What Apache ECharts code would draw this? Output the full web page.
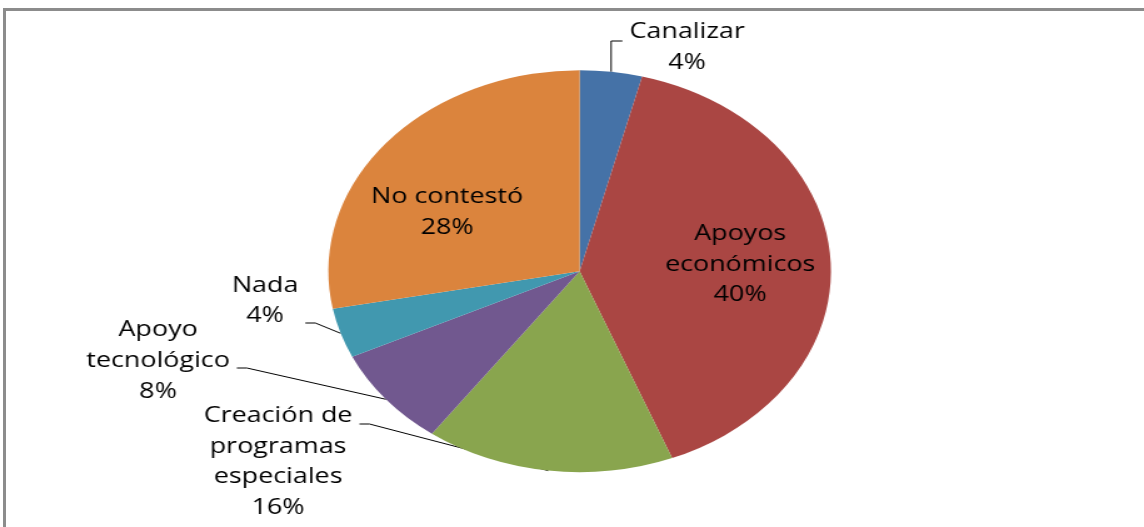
<!DOCTYPE html>
<html><head><meta charset="utf-8">
<script src="https://cdn.jsdelivr.net/npm/echarts@6/dist/echarts.min.js"></script>
<style>
html,body{margin:0;padding:0;background:#fff;width:1144px;height:527px;overflow:hidden;}
#frame{position:absolute;left:3px;top:8px;width:1300px;height:700px;border-left:3px solid #8c8c8c;border-top:3px solid #8c8c8c;box-sizing:border-box;}
#chart{position:absolute;left:0;top:0;width:915px;height:527px;transform:scaleX(1.25027);transform-origin:0 0;}
</style></head><body>
<div id="frame"></div>
<div id="chart"></div>
<script>
// Data
const categories = ['Canalizar', 'Apoyos económicos', 'Creación de programas especiales', 'Apoyo tecnológico', 'Nada', 'No contestó'];
const labelTexts = ['Canalizar', 'Apoyos\neconómicos', 'Creación de\nprogramas\nespeciales', 'Apoyo\ntecnológico', 'Nada', 'No contestó'];
const values = [4, 40, 16, 8, 4, 28];

// Presentation
const sliceColors = ['#4572A7', '#AA4643', '#89A54E', '#71588F', '#4198AF', '#DB843D'];
const insideIdx = [1, 5];
// label placement (chart px, before the horizontal stretch)
const labelPlace = {
  0: {x: 549.6, y: 47.5, lineY: 41, mode: 'up'},
  1: {x: 592, y: 264.5},
  2: {x: 222.4, y: 462, lineY: 424, mode: 'left'},
  3: {x: 126.4, y: 361, lineY: 368, mode: 'left'},
  4: {x: 212, y: 301, lineY: 323, mode: 'left'},
  5: {x: 357.6, y: 212.5}
};

const chart = echarts.init(document.getElementById('chart'), null, {renderer: 'canvas'});
const option = {
  animation: false,
  backgroundColor: 'transparent',
  series: [{
    type: 'pie',
    center: [463.6, 271.2],
    radius: 201,
    startAngle: 90,
    clockwise: true,
    avoidLabelOverlap: false,
    itemStyle: {borderWidth: 0},
    emphasis: {disabled: true},
    data: categories.map((n, i) => ({
      name: n,
      value: values[i],
      itemStyle: {color: sliceColors[i]},
      label: {position: insideIdx.includes(i) ? 'inside' : 'outside'},
      labelLine: {show: !insideIdx.includes(i)}
    })),
    label: {
      formatter: p => labelTexts[p.dataIndex] + '\n' + p.value + '%',
      fontFamily: 'Open Sans',
      fontSize: 21.5,
      lineHeight: 30.7,
      color: '#000',
      align: 'center'
    },
    labelLine: {
      show: true,
      length: 20,
      length2: 10,
      smooth: false,
      lineStyle: {color: '#000', width: 1}
    },
    labelLayout: function (params) {
      const cfg = labelPlace[params.dataIndex];
      const w = params.labelRect.width;
      const out = {x: cfg.x, y: cfg.y, align: 'center', verticalAlign: 'middle'};
      if (cfg.mode && params.labelLinePoints) {
        const p0 = params.labelLinePoints[0];
        if (cfg.mode === 'up') {
          const endX = cfg.x - w / 2 - 5.6;
          out.labelLinePoints = [[p0[0], p0[1]], [p0[0], cfg.lineY], [endX, cfg.lineY]];
        } else {
          const endX = cfg.x + w / 2 + 5.6;
          out.labelLinePoints = [[p0[0], p0[1]], [endX + 8, cfg.lineY], [endX, cfg.lineY]];
        }
      }
      return out;
    }
  }]
};
chart.setOption(option);
</script>
</body></html>
